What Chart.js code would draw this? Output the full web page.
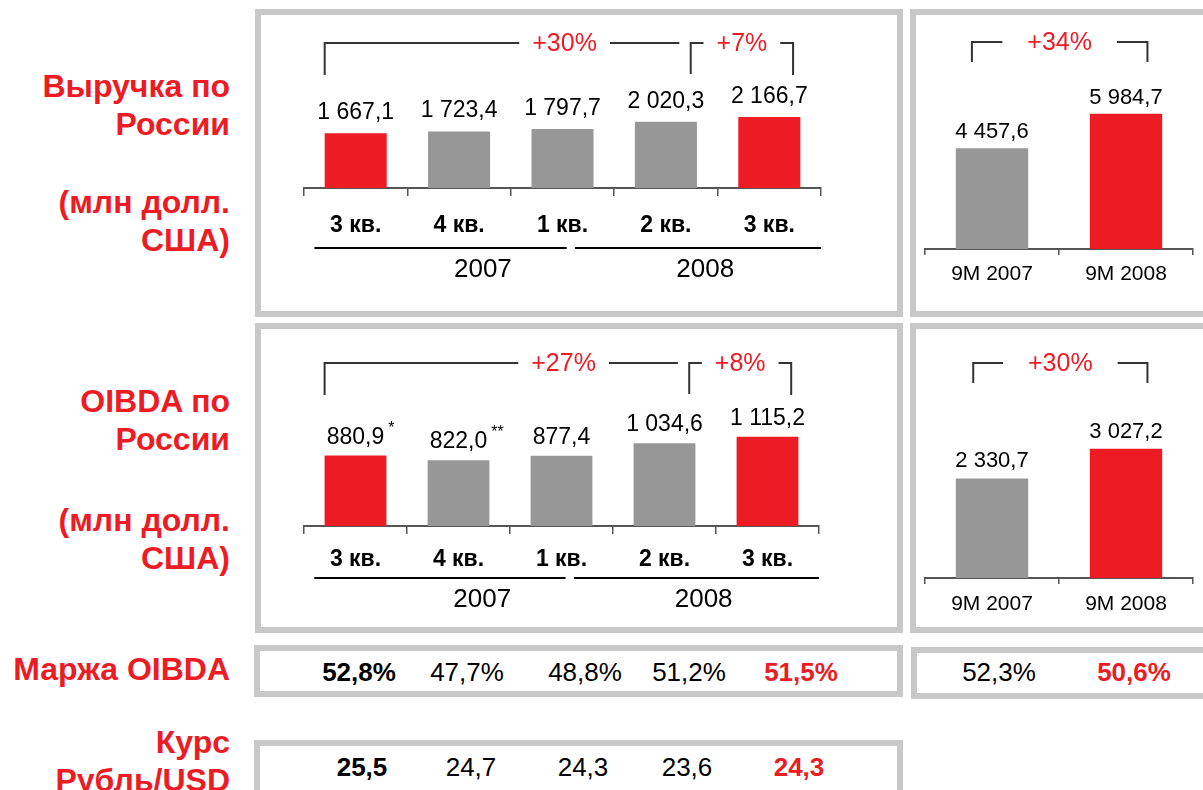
<!DOCTYPE html>
<html>
<head>
<meta charset="utf-8">
<script src="https://cdn.jsdelivr.net/npm/chart.js@4.4.0/dist/chart.umd.min.js"></script>
<style>
body { margin: 0; width: 1203px; height: 790px; overflow: hidden; background: #fff; font-family: "Liberation Sans", Arial, sans-serif; position: relative; }
.box { position: absolute; border: 6px solid #c8c8c8; box-sizing: border-box; }
.side { position: absolute; right: 973px; text-align: right; color: #ed1c24; font-weight: bold; font-size: 32px; line-height: 38px; white-space: nowrap; }
canvas { position: absolute; }
.num { position: absolute; font-size: 26px; line-height: 30px; transform: translateX(-50%); white-space: nowrap; color: #000; }
.num.b { font-weight: bold; }
.num.r { color: #ed1c24; font-weight: bold; }
</style>
</head>
<body>
<div class="box" style="left:255px;top:9px;width:648px;height:308px"></div>
<div class="box" style="left:910px;top:9px;width:300px;height:308px"></div>
<div class="box" style="left:255px;top:323px;width:648px;height:310px"></div>
<div class="box" style="left:910px;top:323px;width:300px;height:310px"></div>
<div class="box" style="left:254px;top:645px;width:649px;height:52px"></div>
<div class="box" style="left:911px;top:647px;width:300px;height:52px"></div>
<div class="box" style="left:254px;top:740px;width:649px;height:70px"></div>

<div class="side" style="top:67px">Выручка по<br>России</div>
<div class="side" style="top:183px">(млн долл.<br>США)</div>
<div class="side" style="top:382px">OIBDA по<br>России</div>
<div class="side" style="top:501px">(млн долл.<br>США)</div>
<div class="side" style="top:650px">Маржа OIBDA</div>
<div class="side" style="top:723px">Курс<br>Рубль/USD</div>

<canvas id="revQ" width="636" height="296" style="left:261px;top:15px"></canvas>
<canvas id="rev9" width="287" height="296" style="left:916px;top:15px"></canvas>
<canvas id="oibQ" width="636" height="298" style="left:261px;top:329px"></canvas>
<canvas id="oib9" width="287" height="298" style="left:916px;top:329px"></canvas>
<div id="rows"></div>

<script>
const quarters = ['3 кв.', '4 кв.', '1 кв.', '2 кв.', '3 кв.']
const years = ['2007', '2008']
const periods9M = ['9M 2007', '9M 2008']

const revenueQ = [1667.1, 1723.4, 1797.7, 2020.3, 2166.7]
const revenue9M = [4457.6, 5984.7]
const oibdaQ = [880.9, 822.0, 877.4, 1034.6, 1115.2]
const oibdaMarks = ['*', '**', '', '', '']
const oibda9M = [2330.7, 3027.2]

const revenueGrowth = ['+30%', '+7%']
const revenueGrowth9M = ['+34%']
const oibdaGrowth = ['+27%', '+8%']
const oibdaGrowth9M = ['+30%']

const marginQ = [52.8, 47.7, 48.8, 51.2, 51.5]
const margin9M = [52.3, 50.6]
const rateQ = [25.5, 24.7, 24.3, 23.6, 24.3]

const RED = '#ed1c24'
const GREY = '#979797'
const FONT = '"Liberation Sans", Arial, sans-serif'

function fmt(v) {
    const [i, d] = v.toFixed(1).split('.')
    return i.replace(/\B(?=(\d{3})+(?!\d))/g, ' ') + ',' + d
}

// labels, brackets and year groups drawn over the bars
const notes = {
    id: 'notes',
    afterDraw(chart, args, o) {
        const ctx = chart.ctx
        const area = chart.chartArea
        const bars = chart.getDatasetMeta(0).data
        const vals = chart.data.datasets[0].data
        const cw = area.width / bars.length
        const at = v => area.left + (v + 0.5) * cw
        ctx.save()
        ctx.fillStyle = '#000'
        ctx.textAlign = 'center'
        ctx.textBaseline = 'alphabetic'
        bars.forEach((b, i) => {
            ctx.font = o.valueFont
            const s = fmt(vals[i])
            ctx.fillText(s, b.x, b.y - o.gap)
            const m = o.marks && o.marks[i]
            if (m) {
                const w = ctx.measureText(s).width
                ctx.font = '16px ' + FONT
                ctx.textAlign = 'left'
                ctx.fillText(m, b.x + w / 2 + 4, b.y - o.gap - 11)
                ctx.textAlign = 'center'
            }
        })

        ctx.strokeStyle = '#333'
        ctx.lineWidth = 2
        ctx.font = '25px ' + FONT
        const brackets = o.brackets || []
        brackets.forEach(k => {
            const y = area.top + o.bracketY
            const x1 = at(k.from)
            const x2 = at(k.to)
            const tx = k.tx != null ? at(k.tx) : (x1 + x2) / 2
            const tw = ctx.measureText(k.text).width
            ctx.beginPath()
            ctx.moveTo(x1, y + k.dropL)
            ctx.lineTo(x1, y)
            ctx.lineTo(tx - tw / 2 - o.textGap, y)
            ctx.moveTo(tx + tw / 2 + o.textGap, y)
            ctx.lineTo(x2, y)
            ctx.lineTo(x2, y + k.dropR)
            ctx.stroke()
            ctx.fillStyle = RED
            ctx.textBaseline = 'middle'
            ctx.fillText(k.text, tx, y + 1)
        })

        const groups = o.groups || []
        ctx.fillStyle = '#000'
        ctx.strokeStyle = '#000'
        ctx.textBaseline = 'middle'
        ctx.font = '26px ' + FONT
        groups.forEach(g => {
            const y = area.bottom + o.groupLineY
            ctx.beginPath()
            ctx.moveTo(at(g.from), y)
            ctx.lineTo(at(g.to), y)
            ctx.stroke()
            ctx.fillText(g.label, at(g.tx), area.bottom + o.groupTextY)
        })
        ctx.restore()
    }
}

function makeChart(id, labels, values, colors, cfg) {
    return new Chart(document.getElementById(id), {
        type: 'bar',
        data: {
            labels: labels,
            datasets: [{ data: values, backgroundColor: colors, barPercentage: cfg.barPct, categoryPercentage: 1 }]
        },
        options: {
            responsive: false,
            animation: false,
            layout: { padding: cfg.pad },
            plugins: { legend: { display: false }, tooltip: { enabled: false }, notes: cfg.notes },
            scales: {
                x: {
                    afterFit: s => { s.height = cfg.axisH },
                    border: { display: true, color: '#555', width: 2 },
                    grid: { drawOnChartArea: false, drawTicks: true, tickLength: cfg.tick, color: '#555', lineWidth: 1.5, offset: true },
                    ticks: { font: cfg.tickFont, color: '#000', padding: cfg.tickPad, maxRotation: 0, autoSkip: false }
                },
                y: { display: false, min: 0, max: cfg.max }
            }
        },
        plugins: [notes]
    })
}

const qColors = [RED, GREY, GREY, GREY, RED]
const nColors = [GREY, RED]
const qBold = { family: FONT, size: 23, weight: 'bold' }
const nFont = { family: FONT, size: 21 }

function quarterBrackets(txt) {
    return [
        { from: -0.3, to: 3.13, tx: 2.02, text: txt[0], dropL: 32, dropR: 0 },
        { from: 3.24, to: 4.23, text: txt[1], dropL: 31, dropR: 32 }
    ]
}
const yearGroups = [
    { label: years[0], from: -0.4, to: 2.04, tx: 1.23 },
    { label: years[1], from: 2.12, to: 4.5, tx: 3.38 }
]

makeChart('revQ', quarters, revenueQ, qColors, {
    barPct: 0.6, max: 3900, axisH: 123, tick: 8, tickPad: 16, tickFont: qBold,
    pad: { left: 43, right: 76, top: 45, bottom: 0 },
    notes: { valueFont: '23px ' + FONT, gap: 14, bracketY: -17, textGap: 13,
        brackets: quarterBrackets(revenueGrowth), groups: yearGroups, groupLineY: 60, groupTextY: 82 }
})

makeChart('oibQ', quarters, oibdaQ, qColors, {
    barPct: 0.6, max: 1825, axisH: 101, tick: 8, tickPad: 12, tickFont: qBold,
    pad: { left: 43, right: 78, top: 51, bottom: 0 },
    notes: { valueFont: '23px ' + FONT, gap: 12, marks: oibdaMarks, bracketY: -17, textGap: 13,
        brackets: quarterBrackets(oibdaGrowth), groups: yearGroups, groupLineY: 52, groupTextY: 74 }
})

makeChart('rev9', periods9M, revenue9M, nColors, {
    barPct: 0.54, max: 8360, axisH: 62, tick: 6, tickPad: 7, tickFont: nFont,
    pad: { left: 9, right: 10, top: 45, bottom: 0 },
    notes: { valueFont: '22px ' + FONT, gap: 10, bracketY: -18, textGap: 25,
        brackets: [{ from: -0.15, to: 1.16, text: revenueGrowth9M[0], dropL: 20, dropR: 20 }] }
})

makeChart('oib9', periods9M, oibda9M, nColors, {
    barPct: 0.54, max: 4169, axisH: 49, tick: 6, tickPad: 8, tickFont: nFont,
    pad: { left: 9, right: 10, top: 71, bottom: 0 },
    notes: { valueFont: '22px ' + FONT, gap: 11, bracketY: -37, textGap: 25,
        brackets: [{ from: -0.14, to: 1.16, text: oibdaGrowth9M[0], dropL: 20, dropR: 20 }] }
})

// rows of margin and exchange rate figures
const marginX = [359, 467, 585, 689, 801]
const margin9MX = [999, 1134]
const rateX = [362, 471, 583, 687, 799]

function addRow(values, xs, top, suffix, firstBold) {
    const rows = document.getElementById('rows')
    values.forEach((v, i) => {
        const el = document.createElement('div')
        el.className = 'num'
        if (i === values.length - 1) el.className += ' r'
        else if (i === 0 && firstBold) el.className += ' b'
        el.style.left = xs[i] + 'px'
        el.style.top = top + 'px'
        el.textContent = v.toFixed(1).replace('.', ',') + suffix
        rows.appendChild(el)
    })
}
addRow(marginQ, marginX, 657, '%', true)
addRow(margin9M, margin9MX, 657, '%', false)
addRow(rateQ, rateX, 752, '', true)
</script>
</body>
</html>
